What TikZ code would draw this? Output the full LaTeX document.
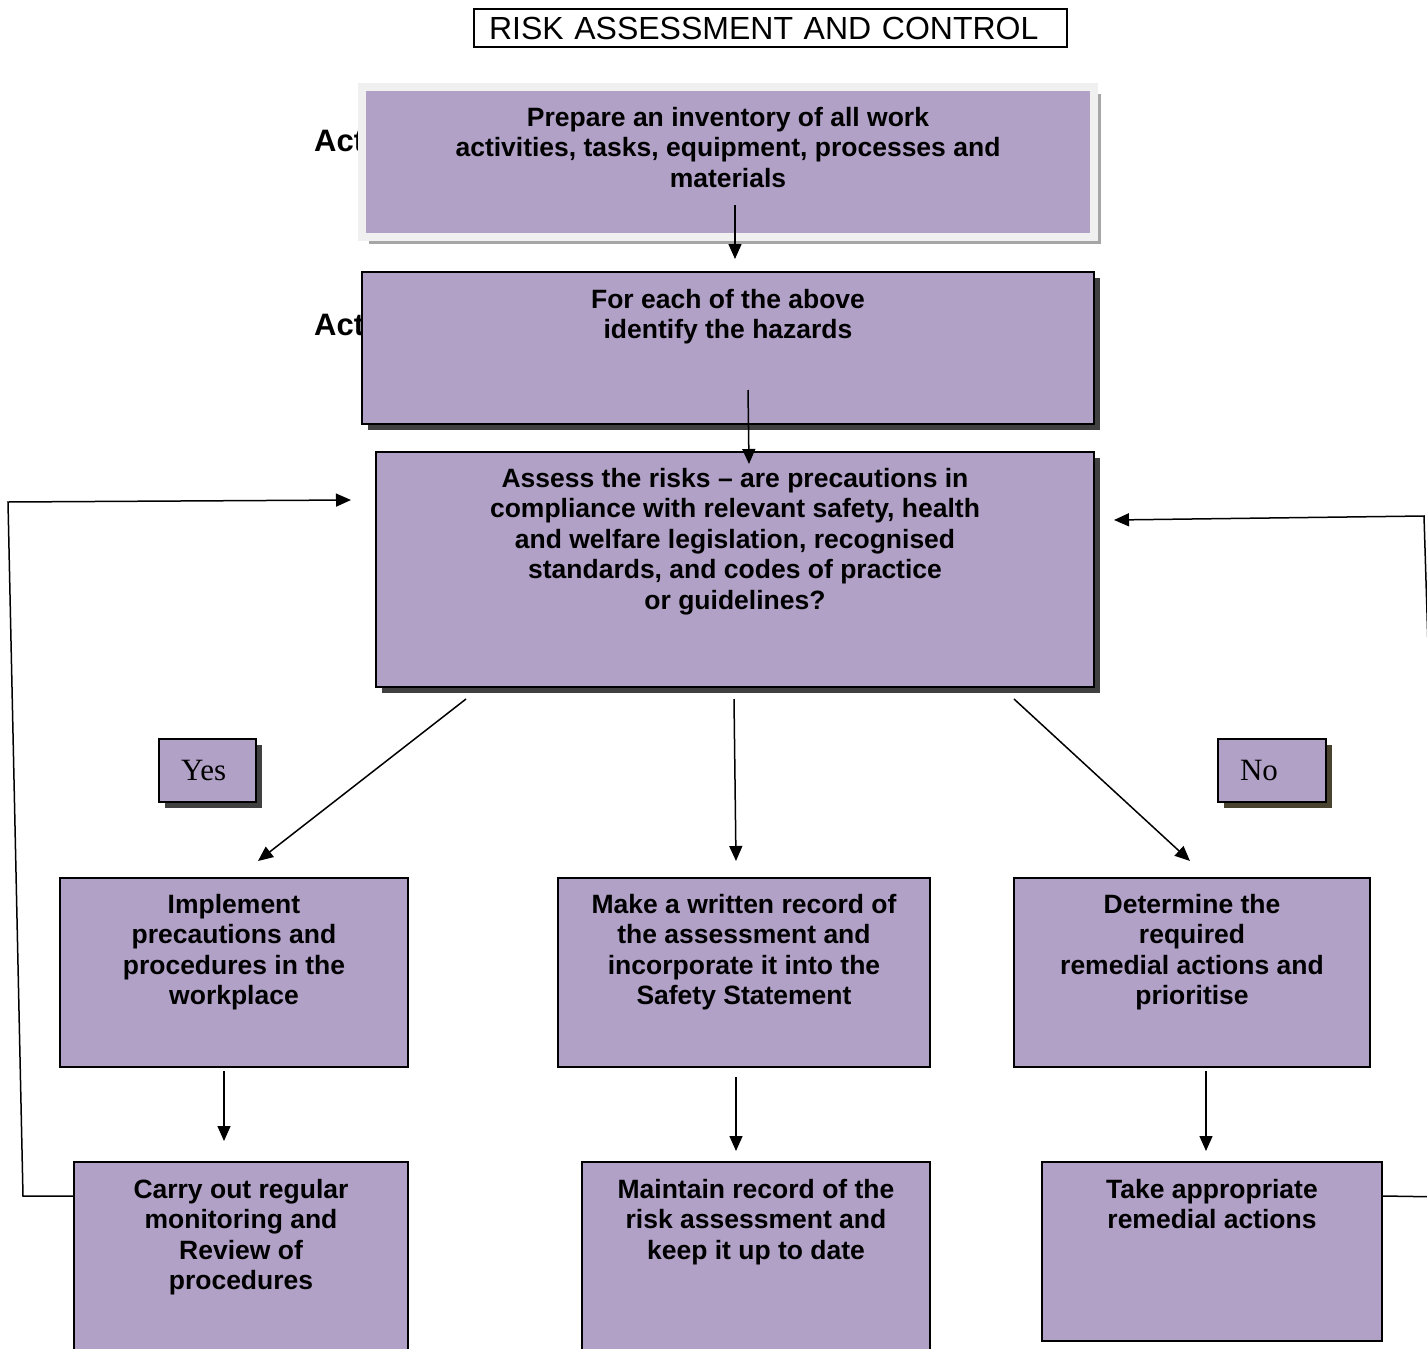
\documentclass[tikz,border=0pt]{standalone}
\usepackage{fontspec}
\setmainfont{Liberation Sans}
\newfontfamily\answerfont{Liberation Serif}
\usetikzlibrary{arrows.meta,shadows,positioning}

\definecolor{lilac}{RGB}{177,161,199}

\tikzstyle{actionbox}=[
    rectangle,
    draw,
    line width=2pt,
    fill=lilac,
    inner sep=0pt,
  ]
\tikzstyle{shadowbox}=[
    actionbox,
    drop shadow={shadow xshift=6pt, shadow yshift=-6pt, fill=black!75, opacity=1},
  ]
\tikzstyle{boxtext}=[
    align=center,
    inner sep=0pt,
    font=\fontsize{26.5}{30.5}\selectfont\bfseries,
  ]
\tikzstyle{answer}=[
    shadowbox,
    align=left,
    inner xsep=22pt,
    minimum height=63pt,
    font=\fontsize{31}{36}\selectfont\answerfont,
  ]
\tikzstyle{dep}=[
    -{Triangle[length=15pt,width=13pt]},
    line width=1.5pt,
  ]

\begin{document}
\begin{tikzpicture}[x=1pt, y=-1pt]
      \useasboundingbox (0,0) rectangle (1427,1349);

      % title
      \node[draw, line width=2pt, minimum height=38pt, text width=563pt, inner xsep=15pt,
            align=left, font=\fontsize{32}{36}\selectfont] (title) at (770.5,28) {RISK ASSESSMENT AND CONTROL};

      % labels partly hidden behind the boxes
      \node[anchor=west, inner sep=0pt, font=\fontsize{31}{36}\selectfont\bfseries] (actone) at (314,141) {Act};
      \node[anchor=west, inner sep=0pt, font=\fontsize{31}{36}\selectfont\bfseries] (acttwo) at (314,325) {Act};

      % top column
      \node[actionbox, draw=black!6, line width=8pt, minimum width=732pt, minimum height=150pt,
            drop shadow={shadow xshift=7pt, shadow yshift=-7pt, fill=black!35, opacity=1}] (inventory) at (728,162) {};
      \node[shadowbox, minimum width=732pt, minimum height=152pt] (hazards) at (728,348) {};
      \node[shadowbox, minimum width=718pt, minimum height=235pt] (assess) at (735,569.5) {};

      \node[boxtext, below=24pt of inventory.north] (inventorytext) {Prepare an inventory of all work\\activities, tasks, equipment, processes and\\materials};
      \node[boxtext, below=18pt of hazards.north] (hazardstext) {For each of the above\\identify the hazards};
      \node[boxtext, below=17pt of assess.north] (assesstext) {Assess the risks -- are precautions in\\compliance with relevant safety, health\\and welfare legislation, recognised\\standards, and codes of practice\\or guidelines?};

      % yes / no
      \node[answer, text width=53pt] (yes) at (207.5,770.5) {Yes};
      \node[answer, text width=64pt, drop shadow={shadow xshift=6pt, shadow yshift=-6pt, fill={rgb,255:red,72;green,66;blue,46}, opacity=1}] (no) at (1272,770.5) {No};

      % middle row
      \node[actionbox, minimum width=348pt, minimum height=189pt] (implement) at (234,972.5) {};
      \node[actionbox, minimum width=372pt, minimum height=189pt] (record) at (744,972.5) {};
      \node[actionbox, minimum width=356pt, minimum height=189pt] (determine) at (1192,972.5) {};

      \node[boxtext, below=17pt of implement.north] (implementtext) {Implement\\precautions and\\procedures in the\\workplace};
      \node[boxtext, below=17pt of record.north] (recordtext) {Make a written record of\\the assessment and\\incorporate it into the\\Safety Statement};
      \node[boxtext, below=17pt of determine.north] (determinetext) {Determine the\\required\\remedial actions and\\prioritise};

      % bottom row
      \node[actionbox, minimum width=334pt, minimum height=203pt] (monitor) at (241,1263.5) {};
      \node[actionbox, minimum width=348pt, minimum height=203pt] (maintain) at (756,1263.5) {};
      \node[actionbox, minimum width=340pt, minimum height=179pt] (remedial) at (1212,1251.5) {};

      \node[boxtext, below=18pt of monitor.north] (monitortext) {Carry out regular\\monitoring and\\Review of\\procedures};
      \node[boxtext, below=18pt of maintain.north] (maintaintext) {Maintain record of the\\risk assessment and\\keep it up to date};
      \node[boxtext, below=18pt of remedial.north] (remedialtext) {Take appropriate\\remedial actions};

      % arrows
      \draw[dep] ([xshift=7pt, yshift=-43pt]inventory.center) -- ([xshift=7pt, yshift=12pt]hazards.north);
      \draw[dep] ([xshift=20pt, yshift=-42pt]hazards.center) -- ([xshift=14pt, yshift=-13pt]assess.north);
      \draw[dep] ([xshift=-269pt, yshift=-11pt]assess.south) -- ([xshift=24pt, yshift=16pt]implement.north);
      \draw[dep] ([xshift=-1pt, yshift=-11pt]assess.south) -- ([xshift=-8pt, yshift=16pt]record.north);
      \draw[dep] ([xshift=279pt, yshift=-11pt]assess.south) -- ([xshift=-2pt, yshift=16pt]determine.north);
      \draw[dep] ([xshift=-10pt, yshift=-3pt]implement.south) -- ([xshift=-17pt, yshift=20pt]monitor.north);
      \draw[dep] ([xshift=-8pt, yshift=-9pt]record.south) -- ([xshift=-20pt, yshift=10pt]maintain.north);
      \draw[dep] ([xshift=14pt, yshift=-3pt]determine.south) -- ([xshift=-6pt, yshift=10pt]remedial.north);

      % feedback loops
      \draw[dep] ([yshift=-35pt]monitor.north west) -- ++(-50,0) -- (8,502) -- ([xshift=-24pt, yshift=69.5pt]assess.west);
      \draw[dep] ([yshift=-35pt]remedial.north east) -- (1445,1197) -- (1424,516) -- ([xshift=19pt, yshift=49.5pt]assess.east);
    \end{tikzpicture}
\end{document}
